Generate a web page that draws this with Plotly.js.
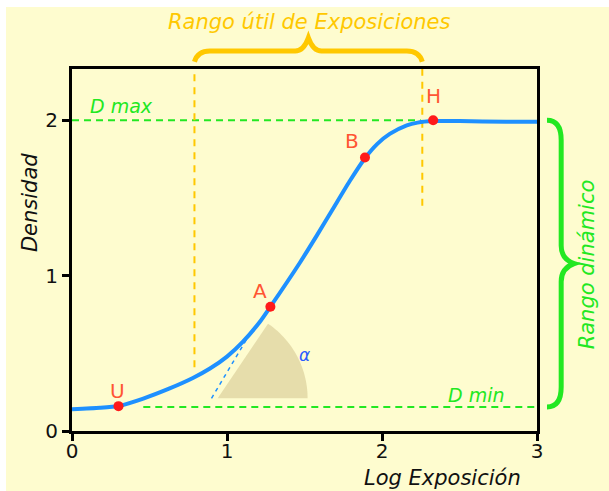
<!DOCTYPE html>
<html>
<head>
<meta charset="utf-8">
<script src="https://cdn.plot.ly/plotly-3.0.1.min.js"></script>
<style>
  html, body { margin: 0; padding: 0; background: #ffffff; width: 609px; height: 491px; overflow: hidden; }
  #chart { position: absolute; left: 6px; top: 7px; width: 603px; height: 484px; }
</style>
</head>
<body>
<div id="chart"></div>
<script>
// ---- data ----
const logExp  = [0, 0.18, 0.30, 0.46, 0.63, 0.78, 0.89, 1.00, 1.10, 1.21, 1.28, 1.47, 1.58, 1.68, 1.79, 1.89, 1.97, 2.05, 2.16, 2.23, 2.33, 2.50, 2.80, 3.00];
const density = [0.14, 0.149, 0.161, 0.209, 0.274, 0.341, 0.402, 0.479, 0.572, 0.70, 0.80, 1.083, 1.259, 1.424, 1.606, 1.756, 1.848, 1.912, 1.967, 1.985, 1.995, 1.995, 1.99, 1.99];

const pointLabels = ['U', 'A', 'B', 'H'];
const pointX = [0.30, 1.28, 1.89, 2.33];
const pointY = [0.16, 0.80, 1.76, 2.00];

const xTicks = [0, 1, 2, 3];
const yTicks = [0, 1, 2];

const DMAX = 2.0;
const DMIN = 0.155;
const usefulMin = 0.79;
const usefulMax = 2.26;

// tangent / angle illustration (data units)
const tangentX = [0.90, 1.15];
const tangentY = [0.21, 0.63];
const sectorCenter = [0.94, 0.21];
const sectorRadius = 0.58;
const sectorAngleDeg = 56;

// ---- style constants ----
const XMAX = 3, YMAX = 2.33;
const FONT = 'DejaVu Sans, Verdana, sans-serif';
const BG = '#fefccf';
const BLUE = '#1e90ff';
const RED = '#ff1a1a';
const LABELRED = '#ff5533';
const GREEN = '#22e822';
const ORANGE = '#ffc800';
const labelShift = [[-1, 15], [-10, 16], [-13, 17], [0, 24]];

// sector path
let sp = `M ${sectorCenter[0]},${sectorCenter[1]}`;
for (let i = 0; i <= 30; i++) {
  const a = (sectorAngleDeg * i / 30) * Math.PI / 180;
  sp += ` L ${sectorCenter[0] + sectorRadius * Math.cos(a)},${sectorCenter[1] + sectorRadius * Math.sin(a)}`;
}
sp += ' Z';

// orange brace (x data, y paper)
const xm = (usefulMin + usefulMax) / 2;
const yEnd = 1.02, yBar = 1.05, yApex = 1.086, dxc = 0.1, dxa = 0.085;
const orangeBrace = `M ${usefulMin},${yEnd} Q ${usefulMin + 0.02},${yBar} ${usefulMin + dxc},${yBar} ` +
  `L ${xm - dxa},${yBar} Q ${xm - 0.03},${yBar} ${xm},${yApex} Q ${xm + 0.03},${yBar} ${xm + dxa},${yBar} ` +
  `L ${usefulMax - dxc},${yBar} Q ${usefulMax - 0.02},${yBar} ${usefulMax},${yEnd}`;

// green brace (paper coords)
const yTop = DMAX / YMAX, yBot = DMIN / YMAX, ymid = (yTop + yBot) / 2;
const xEnd = 1.0215, xBar = 1.052, xApx = 1.08, dyc = 0.055, dya = 0.05;
const greenBrace = `M ${xEnd},${yTop} Q ${xBar},${yTop} ${xBar},${yTop - dyc} ` +
  `L ${xBar},${ymid + dya} Q ${xBar},${ymid + 0.012} ${xApx},${ymid} Q ${xBar},${ymid - 0.012} ${xBar},${ymid - dya} ` +
  `L ${xBar},${yBot + dyc} Q ${xBar},${yBot} ${xEnd},${yBot}`;

const traces = [
  {
    x: tangentX, y: tangentY, mode: 'lines', type: 'scatter', hoverinfo: 'skip',
    line: { color: BLUE, width: 1.5, dash: '4px,4px' }
  },
  {
    x: logExp, y: density, mode: 'lines', type: 'scatter',
    line: { color: BLUE, width: 4, shape: 'spline', smoothing: 0.6 }
  },
  {
    x: pointX, y: pointY, mode: 'markers', type: 'scatter', cliponaxis: false,
    marker: { color: RED, size: 10 }
  }
];

const annotations = pointLabels.map((t, i) => ({
  x: pointX[i], y: pointY[i], xref: 'x', yref: 'y', text: t, showarrow: false,
  xanchor: 'center', yanchor: 'middle',
  xshift: labelShift[i][0], yshift: labelShift[i][1],
  font: { family: FONT, size: 20, color: LABELRED }
}));

function txt(o) { return Object.assign({ showarrow: false, xanchor: 'center', yanchor: 'middle' }, o); }

annotations.push(
  txt({ xref: 'paper', yref: 'paper', x: 0.51, y: 1.13, text: 'Rango útil de Exposiciones',
    font: { family: FONT, size: 21, color: ORANGE, style: 'italic' } }),
  txt({ xref: 'paper', yref: 'paper', x: 1.108, y: 0.461, text: 'Rango dinámico', textangle: -90,
    font: { family: FONT, size: 21, color: GREEN, style: 'italic' } }),
  txt({ xref: 'paper', yref: 'paper', x: -0.09, y: 0.63, text: 'Densidad', textangle: -90,
    font: { family: FONT, size: 21, color: '#111', style: 'italic' } }),
  txt({ xref: 'paper', yref: 'paper', x: 0.796, y: -0.13, text: 'Log Exposición',
    font: { family: FONT, size: 21, color: '#111', style: 'italic' } }),
  txt({ xref: 'x', yref: 'y', x: 0.10, y: 2.09, xanchor: 'left', text: 'D max',
    font: { family: FONT, size: 19, color: GREEN, style: 'italic' } }),
  txt({ xref: 'x', yref: 'y', x: 2.41, y: 0.23, xanchor: 'left', text: 'D min',
    font: { family: FONT, size: 19, color: GREEN, style: 'italic' } }),
  txt({ xref: 'x', yref: 'y', x: 1.50, y: 0.49, text: 'α',
    font: { family: FONT, size: 17, color: '#2a5cff', style: 'italic' } })
);

const shapes = [
  { type: 'path', xref: 'x', yref: 'y', path: sp, fillcolor: '#e6ddab', line: { width: 0 }, layer: 'below' },
  { type: 'line', xref: 'x', yref: 'y', x0: 0, x1: 2.25, y0: DMAX, y1: DMAX, layer: 'below',
    line: { color: GREEN, width: 2, dash: '7px,5px' } },
  { type: 'line', xref: 'x', yref: 'y', x0: 0.46, x1: XMAX, y0: DMIN, y1: DMIN, layer: 'below',
    line: { color: GREEN, width: 2, dash: '7px,5px' } },
  { type: 'line', xref: 'x', yref: 'y', x0: usefulMin, x1: usefulMin, y0: 0.41, y1: YMAX, layer: 'below',
    line: { color: ORANGE, width: 2, dash: '7px,6px' } },
  { type: 'line', xref: 'x', yref: 'y', x0: usefulMax, x1: usefulMax, y0: 1.45, y1: YMAX, layer: 'below',
    line: { color: ORANGE, width: 2, dash: '7px,6px' } },
  { type: 'path', xref: 'x', yref: 'paper', path: orangeBrace, line: { color: ORANGE, width: 5 } },
  { type: 'path', xref: 'paper', yref: 'paper', path: greenBrace, line: { color: GREEN, width: 5 } }
];

const axisCommon = {
  showline: true, linecolor: '#000', linewidth: 3, mirror: true,
  ticks: 'outside', ticklen: 7, tickwidth: 3, tickcolor: '#000',
  showgrid: false, zeroline: false, fixedrange: true,
  tickfont: { family: FONT, size: 20, color: '#111' }
};

const layout = {
  width: 603, height: 484,
  margin: { l: 66, r: 72, t: 62, b: 60 },
  paper_bgcolor: BG, plot_bgcolor: BG,
  showlegend: false,
  xaxis: Object.assign({}, axisCommon, { range: [0, XMAX], tickvals: xTicks, ticktext: xTicks.map(String), ticklabelstandoff: -7 }),
  yaxis: Object.assign({}, axisCommon, { range: [0, YMAX], tickvals: yTicks, ticktext: yTicks.map(String) }),
  annotations: annotations,
  shapes: shapes
};

Plotly.newPlot('chart', traces, layout, { displayModeBar: false, staticPlot: true });
</script>
</body>
</html>
